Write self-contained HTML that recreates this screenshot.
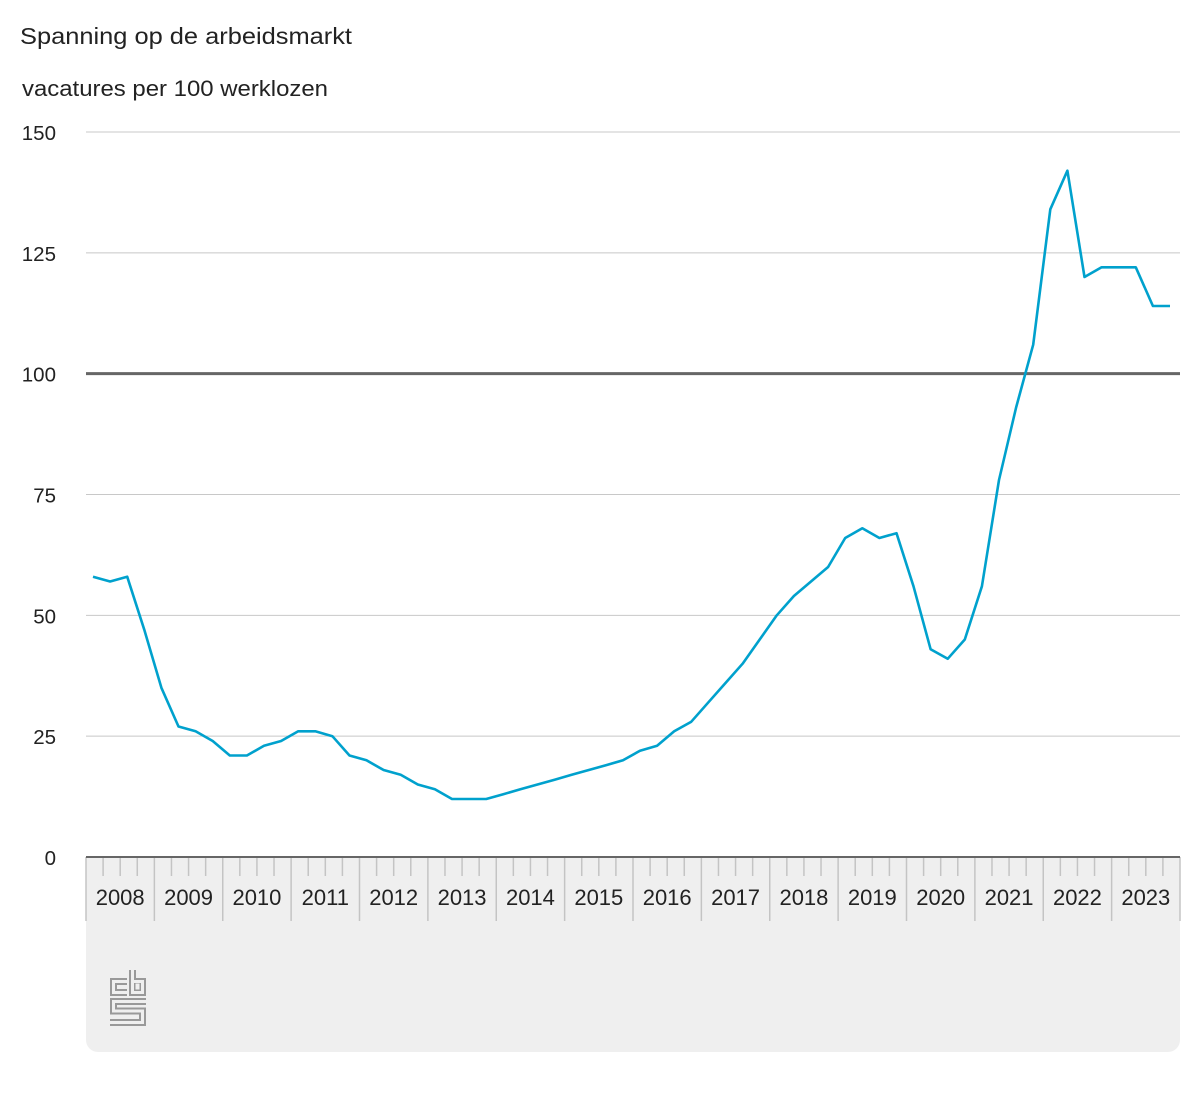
<!DOCTYPE html>
<html><head><meta charset="utf-8"><style>
body{margin:0;background:#fff;width:1200px;height:1100px;overflow:hidden;font-family:"Liberation Sans",Arial,sans-serif}
</style></head><body>
<svg id="s" width="1200" height="1100" xmlns="http://www.w3.org/2000/svg" font-family="Liberation Sans, Arial, sans-serif">
<text x="20" y="44" font-size="23" fill="#222" textLength="332" lengthAdjust="spacingAndGlyphs">Spanning op de arbeidsmarkt</text>
<text x="22" y="96" font-size="22" fill="#222" textLength="306" lengthAdjust="spacingAndGlyphs">vacatures per 100 werklozen</text>
<path d="M86 857 H1180 V1040 a12 12 0 0 1 -12 12 H98 a12 12 0 0 1 -12 -12 Z" fill="#efefef"/>
<g id="g"></g>
<g fill="none" stroke-linejoin="miter">
<path id="lg" d="M127 981.5 H113.5 V992.5 H127 M132.5 970 V992.5 H142.5 V981.5 H132.5 M137 985 h1 v3 h-1z M146 1001.5 H113.5 V1011 H142.5 V1022.5 H110" stroke="#999" stroke-width="7"/>
<path d="M127 981.5 H113.5 V992.5 H127 M132.5 970 V992.5 H142.5 V981.5 H132.5 M137 985 h1 v3 h-1z M146 1001.5 H113.5 V1011 H142.5 V1022.5 H110" stroke="#efefef" stroke-width="3"/>
</g>
</svg>
<script>
var g=document.getElementById('g'),h='';
function Y(v){return 857-v*4.8333;}
[25,50,75,125,150].forEach(function(v){h+='<line x1="86" x2="1180" y1="'+Y(v)+'" y2="'+Y(v)+'" stroke="#c8c8c8" stroke-width="1"/>';});
[0,25,50,75,100,125,150].forEach(function(v){h+='<text x="56" y="'+(Y(v)+8)+'" font-size="20.5" fill="#222" text-anchor="end">'+v+'</text>';});
var yw=68.375;
for(var i=0;i<16;i++){var x0=86+i*yw;
 h+='<line x1="'+x0+'" x2="'+x0+'" y1="857" y2="921" stroke="#c4c4c4" stroke-width="1.5"/>';
 for(var q=1;q<4;q++){var xq=x0+q*yw/4;h+='<line x1="'+xq+'" x2="'+xq+'" y1="857" y2="876" stroke="#c4c4c4" stroke-width="1.5"/>';}
 h+='<text x="'+(x0+yw/2)+'" y="905" font-size="22" fill="#222" text-anchor="middle">'+(2008+i)+'</text>';}
h+='<line x1="1180" x2="1180" y1="857" y2="921" stroke="#c4c4c4" stroke-width="1.5"/>';
h+='<line x1="86" x2="1180" y1="857" y2="857" stroke="#666" stroke-width="2"/>';
h+='<line x1="86" x2="1180" y1="'+Y(100)+'" y2="'+Y(100)+'" stroke="#666" stroke-width="3"/>';
var d=[58,57,58,47,35,27,26,24,21,21,23,24,26,26,25,21,20,18,17,15,14,12,12,12,13,14,15,16,17,18,19,20,22,23,26,28,32,36,40,45,50,54,57,60,66,68,66,67,56,43,41,45,56,78,93,106,134,142,120,122,122,122,114,114];
var p=d.map(function(v,i){return (86+yw/8+i*yw/4-1.5).toFixed(1)+','+Y(v).toFixed(1);}).join(' ');
h+='<polyline points="'+p+'" fill="none" stroke="#00a1cd" stroke-width="2.6" stroke-linejoin="round"/>';
g.innerHTML=h;
</script>
</body></html>
